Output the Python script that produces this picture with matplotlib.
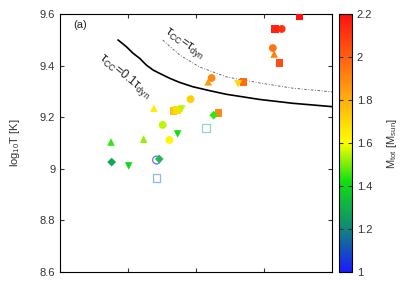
import numpy as np
import matplotlib
matplotlib.use('Agg')
import matplotlib.pyplot as plt
from matplotlib.colors import LinearSegmentedColormap, Normalize

plt.rcParams.update({
    'font.family': 'Liberation Sans',
    'font.size': 8,
    'mathtext.default': 'regular',
    'xtick.direction': 'in',
    'ytick.direction': 'in',
})

# filled markers: (x, log10 T, M_tot)
sq_x = [3.52, 3.16, 3.23, 2.70, 1.67, 1.72, 2.33]
sq_y = [9.592, 9.542, 9.410, 9.337, 9.224, 9.228, 9.216]
sq_m = [2.20, 2.15, 2.05, 1.97, 1.75, 1.68, 1.90]

ci_x = [3.26, 3.13, 2.23, 1.92, 1.51, 1.61]
ci_y = [9.542, 9.468, 9.352, 9.270, 9.170, 9.112]
ci_m = [2.12, 1.95, 1.90, 1.72, 1.55, 1.62]

tu_x = [3.15, 2.18, 1.38, 0.75, 1.23]
tu_y = [9.445, 9.337, 9.235, 9.104, 9.115]
tu_m = [1.92, 1.85, 1.65, 1.45, 1.52]

td_x = [2.62, 1.79, 1.73, 1.01]
td_y = [9.329, 9.232, 9.135, 9.011]
td_m = [1.70, 1.55, 1.42, 1.40]

di_x = [2.26, 0.76, 1.46]
di_y = [9.208, 9.026, 9.038]
di_m = [1.45, 1.28, 1.38]

# open markers
op_x = [2.15, 1.42, 1.42]
op_y = [9.158, 9.034, 8.964]
op_mk = ['s', 'o', 's']
op_c = ['#90d8c0', '#7070f0', '#90b8e0']

# t_CC = 0.1 t_dyn curve
l1_x = [0.855, 0.977, 1.074, 1.172, 1.270, 1.368, 1.441, 1.612, 1.758,
        1.954, 2.198, 2.442, 2.930, 3.419, 4.0]
l1_y = [9.499, 9.473, 9.448, 9.428, 9.402, 9.383, 9.373, 9.351, 9.335,
        9.318, 9.303, 9.289, 9.269, 9.254, 9.241]
# t_CC = t_dyn curve
l2_x = [1.51, 1.76, 2.05, 2.45, 2.93, 3.41, 4.0]
l2_y = [9.499, 9.441, 9.395, 9.356, 9.333, 9.313, 9.298]

cmap = LinearSegmentedColormap.from_list('mtot', [
    (0.0, '#1a1aff'), (0.17, '#108878'), (0.35, '#10e010'),
    (0.5, '#ffff00'), (0.7, '#ffa010'), (1.0, '#ff1010')])
norm = Normalize(1.0, 2.2)

fig = plt.figure(figsize=(4.09, 2.86), dpi=100)
ax = fig.add_axes([60/409, 14/286, 272/409, 258/286])
cax = fig.add_axes([339/409, 14/286, 13/409, 258/286])

ax.plot(l1_x, l1_y, color='black', lw=1.2)
ax.plot(l2_x, l2_y, color='#555555', lw=0.6, ls=(0, (3, 2, 1, 2)))

kw = dict(cmap=cmap, norm=norm, edgecolors='none', zorder=3)
ax.scatter(sq_x, sq_y, c=sq_m, marker='s', s=30, **kw)
ax.scatter(ci_x, ci_y, c=ci_m, marker='o', s=32, **kw)
ax.scatter(tu_x, tu_y, c=tu_m, marker='^', s=30, **kw)
ax.scatter(td_x, td_y, c=td_m, marker='v', s=30, **kw)
sc = ax.scatter(di_x, di_y, c=di_m, marker='D', s=20, **kw)
for x, y, mk, c in zip(op_x, op_y, op_mk, op_c):
    ax.scatter([x], [y], marker=mk, s=32, facecolors='none', edgecolors=c,
               linewidths=0.9, zorder=3)

ax.text(0.2, 9.545, '(a)', color='#222222')
ax.text(1.55, 9.536, r'$\tau_{CC}$=$\tau_{dyn}$', rotation=-35, color='#222222',
        ha='left', va='center', rotation_mode='anchor', fontsize=9)
ax.text(0.6, 9.436, r'$\tau_{CC}$=0.1$\tau_{dyn}$', rotation=-39, color='#222222',
        ha='left', va='center', rotation_mode='anchor', fontsize=9)

ax.set_xlim(0, 4)
ax.set_ylim(8.6, 9.6)
ax.set_xticks([1, 2, 3])
ax.set_xticklabels([])
ax.set_yticks([8.6, 8.8, 9.0, 9.2, 9.4, 9.6])
ax.set_yticklabels(['8.6', '8.8', '9', '9.2', '9.4', '9.6'])
ax.tick_params(top=True, right=True, length=3, colors='#333333', labelcolor='#333333')
ax.set_ylabel(r'log$_{10}$T [K]', color='#333333', labelpad=13)

cb = fig.colorbar(sc, cax=cax)
cb.set_ticks([1, 1.2, 1.4, 1.6, 1.8, 2.0, 2.2])
cb.set_ticklabels(['1', '1.2', '1.4', '1.6', '1.8', '2', '2.2'])
cb.ax.tick_params(direction='in', length=3, left=True, right=True,
                  colors='#333333', labelcolor='#333333')
cb.outline.set_linewidth(0.8)
cb.set_label(r'M$_{tot}$ [M$_{sun}$]', color='#333333', labelpad=9)

fig.savefig('out.png', dpi=100)
